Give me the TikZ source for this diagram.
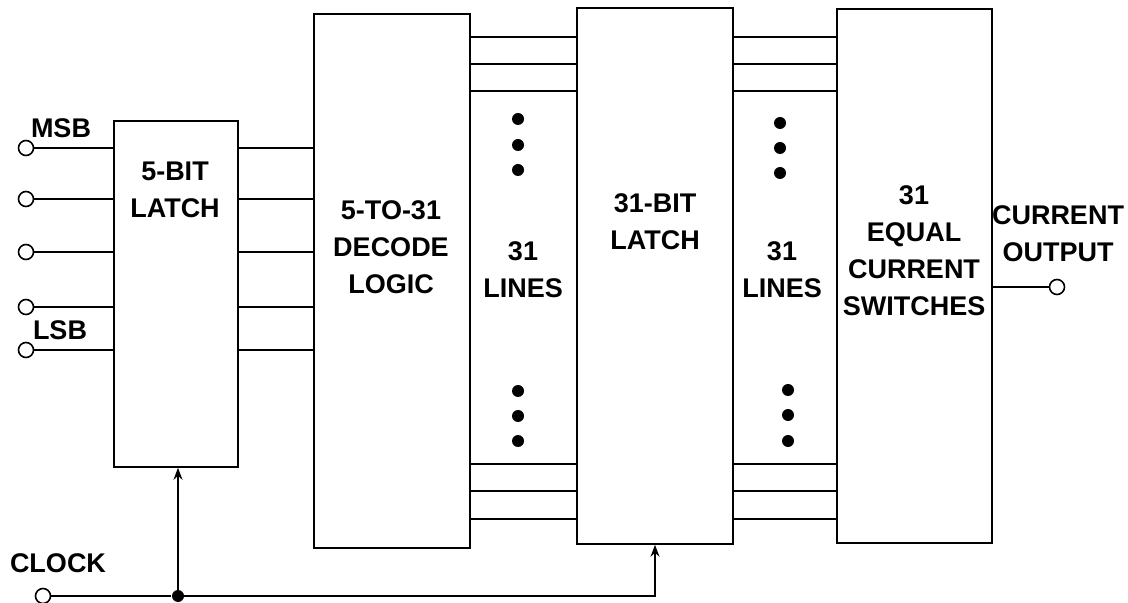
\documentclass[tikz,border=0pt]{standalone}
\usepackage{fontspec}
\setmainfont{Liberation Sans}
\usetikzlibrary{arrows.meta,positioning,calc}

\begin{document}
\begin{tikzpicture}[x=0.5pt, y=-0.5pt, line width=0.8pt,
    every node/.style={font=\fontsize{13.5}{18.5}\selectfont\bfseries, align=center, inner sep=0pt},
    blk/.style args={#1/#2}{draw, rectangle, minimum width=#1, minimum height=#2},
    term/.style={draw, circle, minimum size=7.5pt, fill=white},
    jn/.style={circle, fill, minimum size=6pt},
    dotv/.style={circle, fill, minimum size=6pt},
    clkarrow/.style={-{Stealth[length=6pt, width=4.5pt, inset=2pt]}}]
  \useasboundingbox (0,0) rectangle (1128,603);
  % blocks
  \node[blk=62pt/173pt] (latch5) at (176,294) {};
  \node[blk=78pt/267pt] (decode) at (392,281) {};
  \node[blk=78pt/268pt] (latch31) at (655,276) {};
  \node[blk=77.5pt/267pt] (switches) at (914.5,276) {};
  \node at (175,190) {5-BIT\\LATCH};
  \node at (391,247) {5-TO-31\\DECODE\\LOGIC};
  \node at (655,222) {31-BIT\\LATCH};
  \node at (914,251) {31\\EQUAL\\CURRENT\\SWITCHES};
  \node at (523,270) {31\\LINES};
  \node at (782,270) {31\\LINES};
  % inputs
  \foreach \y/\n in {148/1,199/2,252/3,307/4,350/5} {
    \node[term] (in\n) at (26,\y) {};
    \draw (in\n) -- (in\n -| latch5.west);
    \draw (latch5.east |- in\n) -- (decode.west |- in\n);
  }
  \node (msb) at (61,128) {MSB};
  \node (lsb) at (60,330) {LSB};
  % 31-line buses
  \foreach \y in {37,64,91,464,491,519} {
    \draw (decode.east |- 0,\y) -- (latch31.west |- 0,\y);
    \draw (latch31.east |- 0,\y) -- (switches.west |- 0,\y);
  }
  \foreach \y in {119,145,170,391,416,441}
    \node[dotv] (dl\y) at (518,\y) {};
  \foreach \y in {123,148,173}
    \node[dotv] (dr\y) at (780,\y) {};
  \foreach \y in {390,415,441}
    \node[dotv] (dr\y) at (788,\y) {};
  % output
  \node[term] (out) at (1057,287) {};
  \draw (switches.east |- out) -- (out);
  \node (outlbl) at (1058,234) {CURRENT\\OUTPUT};
  % clock
  \node (clklbl) at (58,563) {CLOCK};
  \node[term] (clk) at (43,596) {};
  \node[jn] (jct) at (178,596) {};
  \draw (clk) -- (jct);
  \draw[clkarrow] (jct.center) -- (jct |- latch5.south);
  \draw[clkarrow] (jct.center) -| (latch31.south);
\end{tikzpicture}
\end{document}
